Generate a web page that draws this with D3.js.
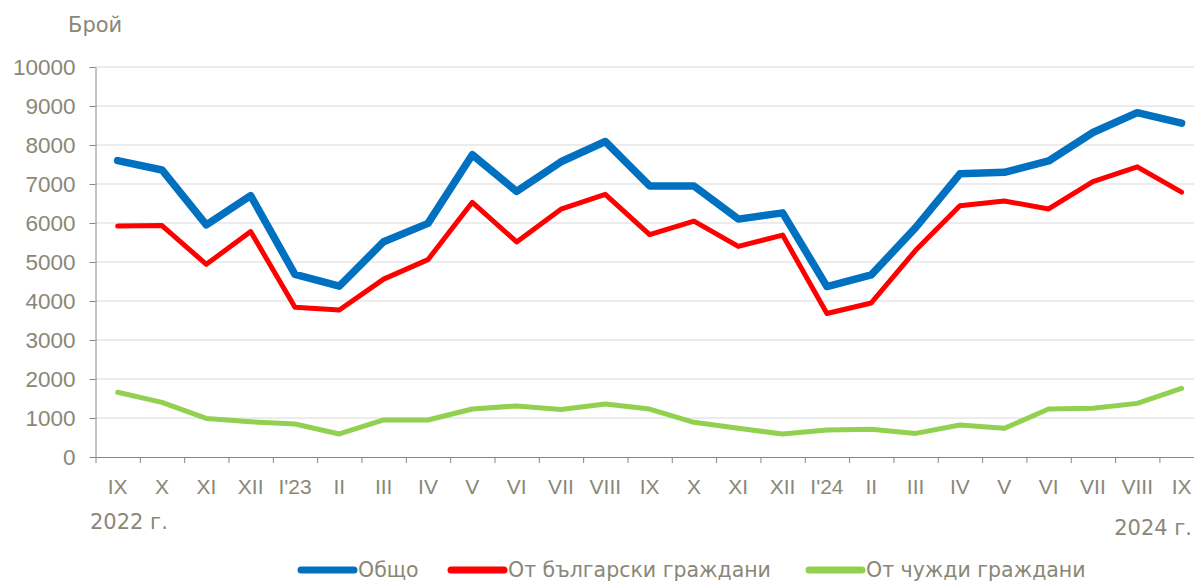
<!DOCTYPE html>
<html>
<head>
<meta charset="utf-8">
<script src="https://cdn.jsdelivr.net/npm/d3@7"></script>
<style>
  html, body { margin: 0; padding: 0; background: #fff; }
  svg { display: block; font-family: "DejaVu Sans", Verdana, sans-serif; }
</style>
</head>
<body>
<svg id="chart" width="1194" height="583"></svg>
<script>
// ==========================================================================
// ДАННИ
// ==========================================================================

const months = ['IX', 'X', 'XI', 'XII', "I'23", 'II', 'III', 'IV', 'V', 'VI', 'VII', 'VIII',
                'IX', 'X', 'XI', 'XII', "I'24", 'II', 'III', 'IV', 'V', 'VI', 'VII', 'VIII', 'IX'];

const total = [7600, 7360, 5950, 6700, 4680, 4380, 5520, 5990, 7750, 6810, 7570, 8090,
               6950, 6950, 6100, 6260, 4370, 4670, 5880, 7260, 7300, 7590, 8320, 8830, 8560];

const bulgarian = [5920, 5935, 4940, 5780, 3840, 3770, 4560, 5060, 6530, 5515, 6355, 6735,
                   5700, 6050, 5400, 5690, 3680, 3950, 5300, 6440, 6565, 6360, 7060, 7440, 6790];

const foreign = [1660, 1400, 990, 905, 845, 590, 950, 950, 1230, 1310, 1220, 1360,
                 1230, 890, 735, 590, 690, 710, 605, 820, 735, 1230, 1250, 1375, 1760];

const yTicks = [0, 1000, 2000, 3000, 4000, 5000, 6000, 7000, 8000, 9000, 10000];

const seriesNames = ['Общо', 'От български граждани', 'От чужди граждани'];

// ==========================================================================
// НАСТРОЙКИ
// ==========================================================================

const W = 1194, H = 583;
const TEXT = '#8a8777';
const plotLeft = 95.5, plotTop = 67, plotBottom = 457;
const step = 44.33;

const series = [
  { name: seriesNames[0], values: total,     color: '#0070C0', width: 7.5 },
  { name: seriesNames[1], values: bulgarian, color: '#FF0000', width: 5 },
  { name: seriesNames[2], values: foreign,   color: '#92D050', width: 5 }
];

const svg = d3.select('#chart');

const x = d3.scaleBand()
  .domain(d3.range(months.length))
  .range([plotLeft, plotLeft + step * months.length]);

const xEdge = d3.scaleLinear()
  .domain([0, months.length])
  .range([plotLeft, plotLeft + step * months.length]);

const y = d3.scaleLinear()
  .domain([0, 10000])
  .range([plotBottom, plotTop]);

// мрежа
svg.append('g')
  .selectAll('line')
  .data(yTicks.filter(d => d > 0))
  .enter().append('line')
  .attr('x1', plotLeft).attr('x2', W)
  .attr('y1', d => y(d)).attr('y2', d => y(d))
  .attr('stroke', '#d9d9d9').attr('stroke-width', 1);

// ос Y
const yAxis = svg.append('g')
  .attr('transform', `translate(${plotLeft},0)`)
  .call(d3.axisLeft(y).tickValues(yTicks).tickSize(6).tickSizeOuter(0).tickPadding(14)
    .tickFormat(d3.format('d')));
yAxis.selectAll('text').style('fill', TEXT).style('font-size', '22.5px');

// ос X - чертички на границите
const xTicks = svg.append('g')
  .attr('transform', `translate(0,${plotBottom})`)
  .call(d3.axisBottom(xEdge).tickValues(d3.range(0, months.length + 1)).tickSize(6).tickSizeOuter(0).tickFormat(''));
xTicks.select('.domain').attr('d', `M${plotLeft},0.5H${W}`);

// ос X - надписи
const xLabels = svg.append('g')
  .attr('transform', `translate(0,${plotBottom})`)
  .call(d3.axisBottom(x).tickSize(0).tickPadding(22).tickFormat(i => months[i]));
xLabels.select('.domain').remove();
xLabels.selectAll('text').style('fill', TEXT).style('font-size', '21px');

svg.selectAll('.domain, .tick line').attr('stroke', '#868686');

// линии
const line = d3.line()
  .x((d, i) => x(i) + x.bandwidth() / 2)
  .y(d => y(d));

series.forEach(s => {
  svg.append('path')
    .datum(s.values)
    .attr('d', line)
    .attr('fill', 'none')
    .attr('stroke', s.color)
    .attr('stroke-width', s.width)
    .attr('stroke-linejoin', 'round')
    .attr('stroke-linecap', 'round');
});

// текстове
svg.append('text').attr('x', 68).attr('y', 32).text('Брой')
  .style('fill', TEXT).style('font-size', '21px');
svg.append('text').attr('x', 90).attr('y', 529).text('2022 г.')
  .style('fill', TEXT).style('font-size', '21px');
svg.append('text').attr('x', 1192).attr('y', 535).text('2024 г.')
  .attr('text-anchor', 'end')
  .style('fill', TEXT).style('font-size', '21px');

// легенда
const legendItems = [
  { x: 301, w: 53 },
  { x: 451, w: 53 },
  { x: 809, w: 53 }
];
const legend = svg.append('g');
series.forEach((s, i) => {
  const it = legendItems[i];
  legend.append('line')
    .attr('x1', it.x).attr('x2', it.x + it.w)
    .attr('y1', 570).attr('y2', 570)
    .attr('stroke', s.color).attr('stroke-width', 7)
    .attr('stroke-linecap', 'round');
  legend.append('text')
    .attr('x', it.x + it.w + 4).attr('y', 577)
    .text(s.name)
    .style('fill', TEXT).style('font-size', '20.5px');
});
</script>
</body>
</html>
